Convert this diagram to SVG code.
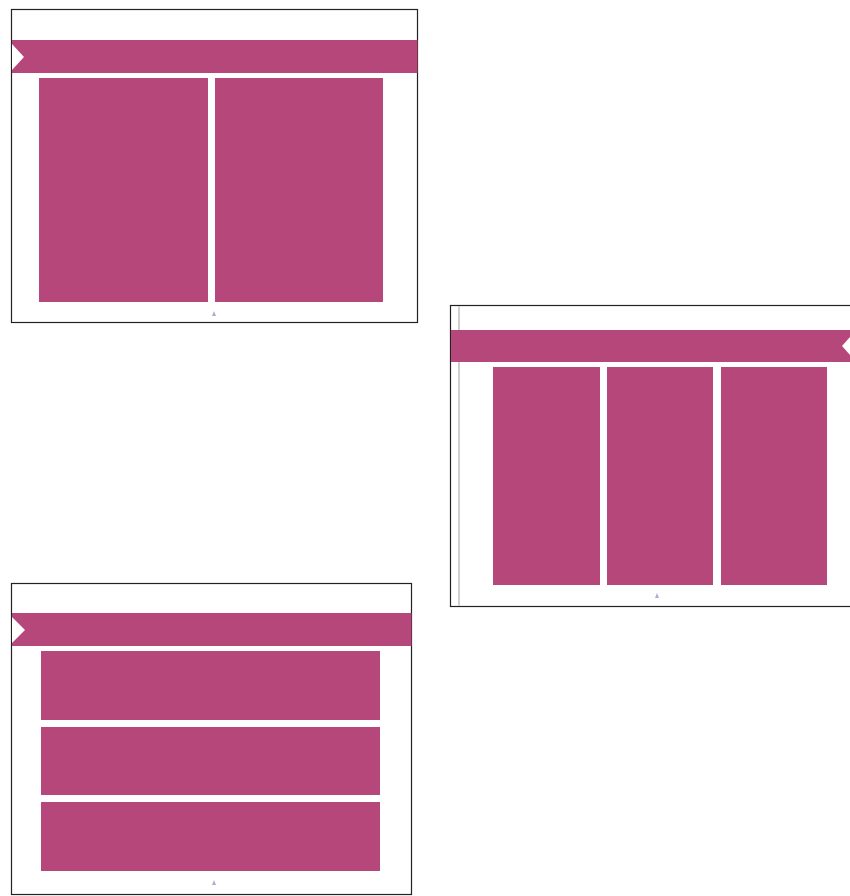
<svg xmlns="http://www.w3.org/2000/svg" width="850" height="896" viewBox="0 0 850 896">
<style>
.frame{fill:#fff;stroke:#222;stroke-width:1.2}
.band{fill:#b5477a}
.panel{fill:#b5477a}
.notch{fill:#fff}
.mark{fill:#b9a6cf}
</style>
<rect width="850" height="896" fill="#fff"/>
<g id="slide1">
<rect class="frame" x="11.5" y="9.5" width="406" height="313"/>
<rect class="band" x="12" y="40" width="405.5" height="33"/>
<polygon class="notch" points="12,44 24,57 12,70"/>
<rect class="panel" x="39" y="78" width="169" height="224"/>
<rect class="panel" x="215" y="78" width="168" height="224"/>
<polygon class="mark" points="212,316 214,311 216,316"/>
</g>
<g id="slide2">
<rect class="frame" x="450.5" y="305.5" width="402" height="301"/>
<line x1="459" y1="306" x2="459" y2="606" stroke="#cfcfcf" stroke-width="2"/>
<rect class="band" x="451" y="330" width="399" height="32"/>
<polygon class="notch" points="850,337 842,346 850,355"/>
<rect class="panel" x="493" y="367" width="107" height="218"/>
<rect class="panel" x="607" y="367" width="106" height="218"/>
<rect class="panel" x="721" y="367" width="106" height="218"/>
<polygon class="mark" points="655,598 657,593 659,598"/>
</g>
<g id="slide3">
<rect class="frame" x="11.5" y="583.5" width="400" height="311"/>
<rect class="band" x="12" y="613" width="399.5" height="33"/>
<polygon class="notch" points="12,617 25,630 12,643"/>
<rect class="panel" x="41" y="651" width="339" height="69"/>
<rect class="panel" x="41" y="727" width="339" height="68"/>
<rect class="panel" x="41" y="802" width="339" height="69"/>
<polygon class="mark" points="212,885 214,880 216,885"/>
</g>
<g id="connectors"></g>
</svg>
